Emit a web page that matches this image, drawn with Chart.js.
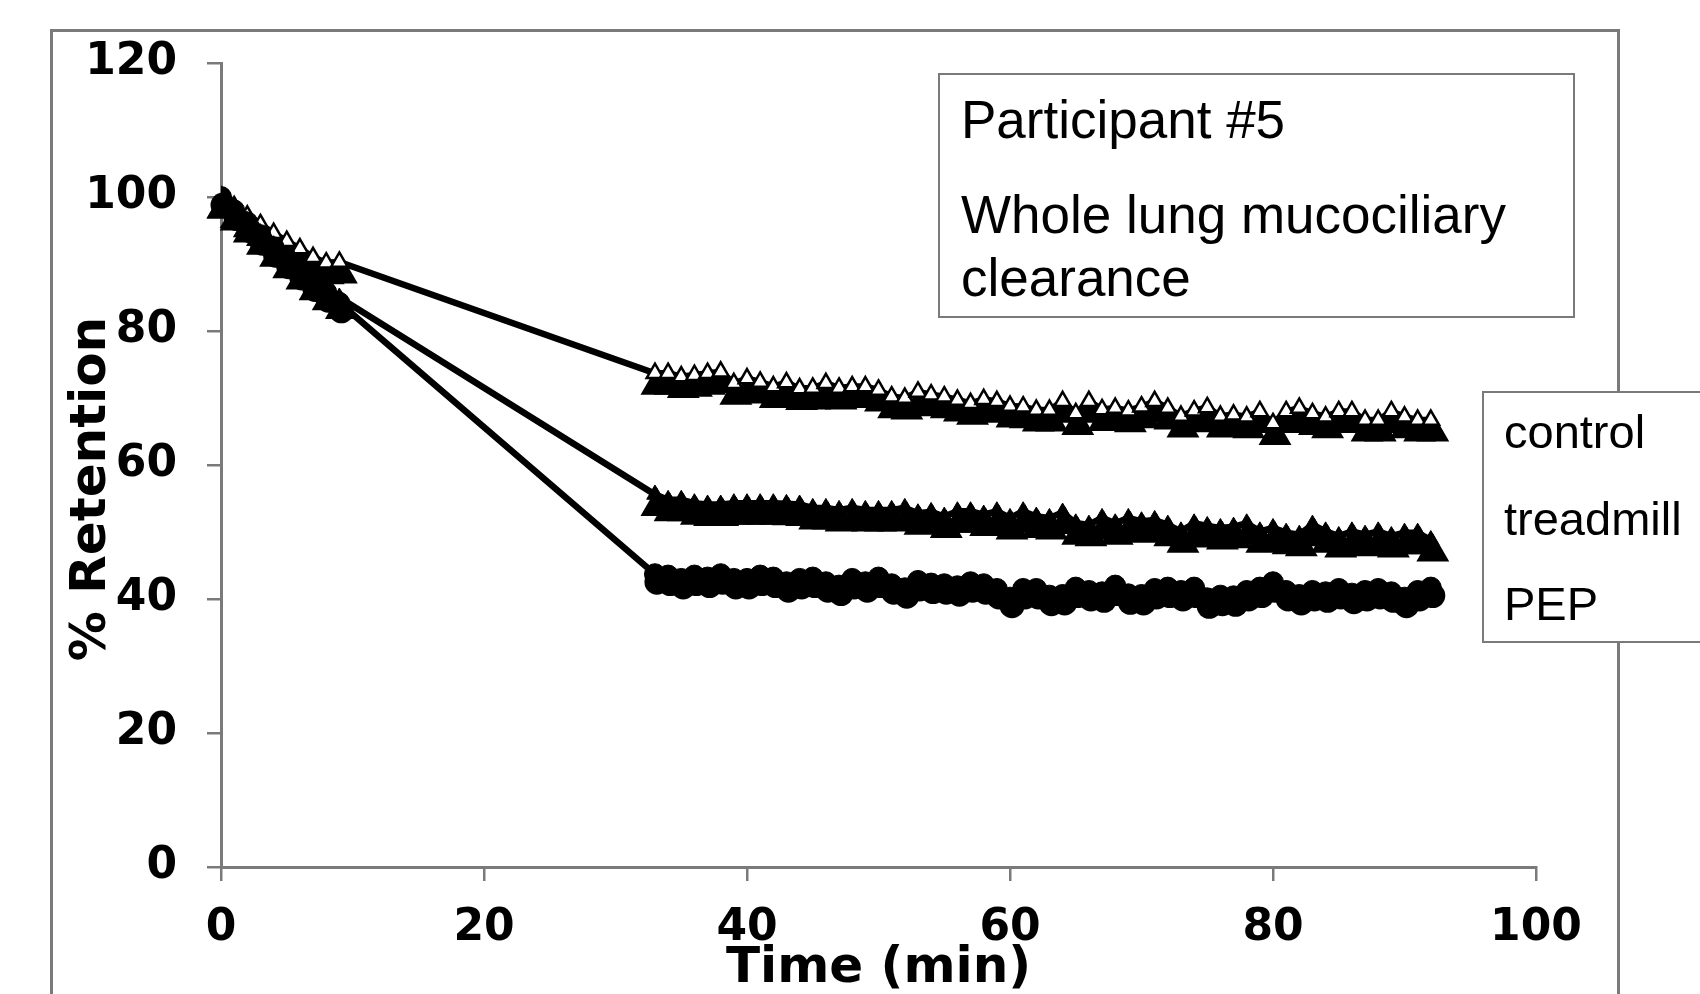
<!DOCTYPE html>
<html>
<head>
<meta charset="utf-8">
<script src="https://cdn.jsdelivr.net/npm/chart.js@4/dist/chart.umd.min.js"></script>
<style>
html,body{margin:0;padding:0;background:#fff;}
canvas{display:block;}
</style>
</head>
<body>
<canvas id="c" width="1700" height="994"></canvas>
<script>
// ---- data ----
const timeMin = [0,1,2,3,4,5,6,7,8,9,
  33,34,35,36,37,38,39,40,41,42,
  43,44,45,46,47,48,49,50,51,52,
  53,54,55,56,57,58,59,60,61,62,
  63,64,65,66,67,68,69,70,71,72,
  73,74,75,76,77,78,79,80,81,82,
  83,84,85,86,87,88,89,90,91,92];
const controlRetention = [100,98.6,97.2,95.9,94.6,93.4,92.3,91.0,90.2,90.3,
  73.7,73.7,73.2,73.4,73.7,73.9,72.2,72.9,72.4,71.7,
  72.3,71.4,71.5,72.2,71.5,71.7,71.7,71.2,70.2,70.0,
  70.9,70.5,70.2,69.7,69.2,69.8,69.5,68.8,68.7,68.2,
  68.2,69.5,67.7,69.5,68.3,68.5,68.1,68.7,69.5,68.5,
  67.3,68.1,68.6,67.3,67.5,67.2,68.0,66.2,68.0,68.5,
  67.7,67.2,68.0,68.0,66.7,66.7,68.0,67.2,66.7,66.7];
const treadmillRetention = [100,98.2,96.4,94.6,92.8,91.1,89.4,87.8,86.3,85.0,
  55.6,54.8,54.8,54.3,54.1,54.1,54.3,54.3,54.3,54.3,
  54.2,54.1,53.6,53.6,53.3,53.6,53.3,53.3,53.3,53.6,
  52.8,53.0,52.3,53.1,53.1,52.6,53.1,52.1,53.1,52.3,
  52.1,52.9,51.3,51.1,52.1,51.3,52.1,51.6,51.8,51.1,
  50.1,51.3,50.9,50.6,50.8,51.3,50.1,50.6,49.9,49.6,
  51.1,50.1,49.4,50.1,49.6,50.1,49.4,49.9,49.9,48.8];
const pepRetention = [100,98.0,96.2,94.3,92.5,90.8,89.1,87.4,85.8,84.2,
  43.7,43.5,43.0,43.5,43.2,43.7,43.0,43.0,43.5,43.2,
  42.5,43.0,43.2,42.5,42.0,43.0,42.5,43.2,42.2,41.6,
  42.7,42.3,42.2,41.9,42.5,42.2,41.5,40.2,41.5,41.5,
  40.5,40.6,41.7,41.2,41.0,42.0,40.7,40.6,41.5,41.7,
  41.2,41.7,40.1,40.5,40.4,41.2,41.7,42.5,41.2,40.6,
  41.2,41.0,41.5,40.8,41.2,41.5,41.0,40.2,41.2,41.7];
const xTickValues = [0,20,40,60,80,100];
const yTickValues = [0,20,40,60,80,100,120];
const seriesNames = ['control','treadmill','PEP'];
const boxLines = ['Participant #5','Whole lung mucociliary','clearance'];
const xTitle = 'Time (min)';
const yTitle = '% Retention';

// ---- styling ----
const GRAY = '#7a7a7a';
const AXFONT = 'DejaVu Sans';
const TXFONT = 'Liberation Sans';

function pts(vals){ return timeMin.map((t,i)=>({x:t,y:vals[i]})); }

function shapePath(ctx, shape, x, y, r){
  ctx.beginPath();
  if (shape === 'circle') {
    ctx.arc(x, y, r, 0, Math.PI*2);
  } else {
    let rad = 0;
    ctx.moveTo(x + Math.sin(rad)*r, y - Math.cos(rad)*r);
    rad += Math.PI*2/3;
    ctx.lineTo(x + Math.sin(rad)*r, y - Math.cos(rad)*r);
    rad += Math.PI*2/3;
    ctx.lineTo(x + Math.sin(rad)*r, y - Math.cos(rad)*r);
    ctx.closePath();
  }
}

const markerShadow = {
  id: 'markerShadow',
  beforeDatasetDraw(chart, args){
    const ds = chart.data.datasets[args.index];
    const sh = ds.shadow;
    if (!sh) return;
    const ctx = chart.ctx;
    ctx.save();
    ctx.fillStyle = '#000';
    for (const el of args.meta.data) {
      shapePath(ctx, sh.shape, el.x + sh.dx, el.y + sh.dy, sh.r);
      ctx.fill();
    }
    ctx.restore();
  }
};

const decorations = {
  id: 'decorations',
  beforeDraw(chart){
    const ctx = chart.ctx;
    ctx.save();
    ctx.fillStyle = '#fff';
    ctx.fillRect(0,0,chart.width,chart.height);
    ctx.strokeStyle = GRAY;
    ctx.lineWidth = 3;
    ctx.strokeRect(51.5, 30.5, 1567, 1100);
    ctx.restore();
  },
  afterDraw(chart){
    const ctx = chart.ctx;
    ctx.save();
    // y axis title
    ctx.fillStyle = '#000';
    ctx.font = 'bold 50px "' + AXFONT + '"';
    ctx.textAlign = 'center';
    ctx.textBaseline = 'alphabetic';
    ctx.translate(105, 489);
    ctx.rotate(-Math.PI/2);
    ctx.fillText(yTitle, 0, 0);
    ctx.restore();

    // annotation box
    ctx.save();
    ctx.fillStyle = '#fff';
    ctx.fillRect(939, 74, 635, 243);
    ctx.strokeStyle = GRAY;
    ctx.lineWidth = 2;
    ctx.strokeRect(939, 74, 635, 243);
    ctx.fillStyle = '#000';
    ctx.font = '53px "' + TXFONT + '"';
    ctx.textAlign = 'left';
    ctx.textBaseline = 'alphabetic';
    const by = [138, 233, 296];
    boxLines.forEach((s,i)=>ctx.fillText(s, 961, by[i]));

    // series label box
    ctx.fillStyle = '#fff';
    ctx.fillRect(1483, 392, 260, 250);
    ctx.strokeStyle = GRAY;
    ctx.strokeRect(1483, 392, 260, 250);
    ctx.fillStyle = '#000';
    ctx.font = '47px "' + TXFONT + '"';
    const ly = [448, 535, 620];
    seriesNames.forEach((s,i)=>ctx.fillText(s, 1504, ly[i]));
    ctx.restore();
  }
};

const tickFont = {family: AXFONT, weight: 'bold', size: 44};

new Chart(document.getElementById('c'), {
  type: 'scatter',
  data: {
    datasets: [
      {
        label: seriesNames[0], data: pts(controlRetention), showLine: true,
        borderColor: '#000', borderWidth: 6.5, tension: 0,
        pointStyle: 'triangle', pointRadius: 9.5, pointBackgroundColor: '#fff',
        pointBorderColor: '#000', pointBorderWidth: 2.5, order: 3,
        shadow: {shape: 'triangle', dx: 2, dy: 12, r: 19}
      },
      {
        label: seriesNames[1], data: pts(treadmillRetention), showLine: true,
        borderColor: '#000', borderWidth: 6.5, tension: 0,
        pointStyle: 'triangle', pointRadius: 9.5, pointBackgroundColor: '#000',
        pointBorderColor: '#000', pointBorderWidth: 1, order: 2,
        shadow: {shape: 'triangle', dx: 2, dy: 12, r: 19}
      },
      {
        label: seriesNames[2], data: pts(pepRetention), showLine: true,
        borderColor: '#000', borderWidth: 6.5, tension: 0,
        pointStyle: 'circle', pointRadius: 10.5, pointBackgroundColor: '#000',
        pointBorderColor: '#000', pointBorderWidth: 1, order: 1,
        shadow: {shape: 'circle', dx: 2, dy: 8, r: 12.5}
      }
    ]
  },
  options: {
    responsive: false,
    animation: false,
    devicePixelRatio: 1,
    layout: {padding: {left: 0, top: 63, right: 164, bottom: 0}},
    plugins: {legend: {display: false}, tooltip: {enabled: false}},
    scales: {
      x: {
        type: 'linear', min: 0, max: 100,
        afterBuildTicks: s => { s.ticks = xTickValues.map(v => ({value: v})); },
        border: {display: true, color: GRAY, width: 3},
        grid: {display: true, drawOnChartArea: false, drawTicks: true, tickLength: 14, color: GRAY, lineWidth: 2.5},
        ticks: {font: tickFont, color: '#000', padding: 21, maxRotation: 0},
        title: {display: true, text: xTitle, color: '#000', font: {family: AXFONT, weight: 'bold', size: 50}, padding: {top: 0, bottom: -5}},
        afterFit: s => { s.height = 127; s.paddingLeft = 0; s.paddingRight = 0; }
      },
      y: {
        type: 'linear', min: 0, max: 120,
        afterBuildTicks: s => { s.ticks = yTickValues.map(v => ({value: v})); },
        border: {display: true, color: GRAY, width: 3},
        grid: {display: true, drawOnChartArea: false, drawTicks: true, tickLength: 14, color: GRAY, lineWidth: 2.5},
        ticks: {font: tickFont, color: '#000', padding: 30},
        afterFit: s => { s.width = 221; s.paddingTop = 0; s.paddingBottom = 0; }
      }
    }
  },
  plugins: [decorations, markerShadow]
});
</script>
</body>
</html>
